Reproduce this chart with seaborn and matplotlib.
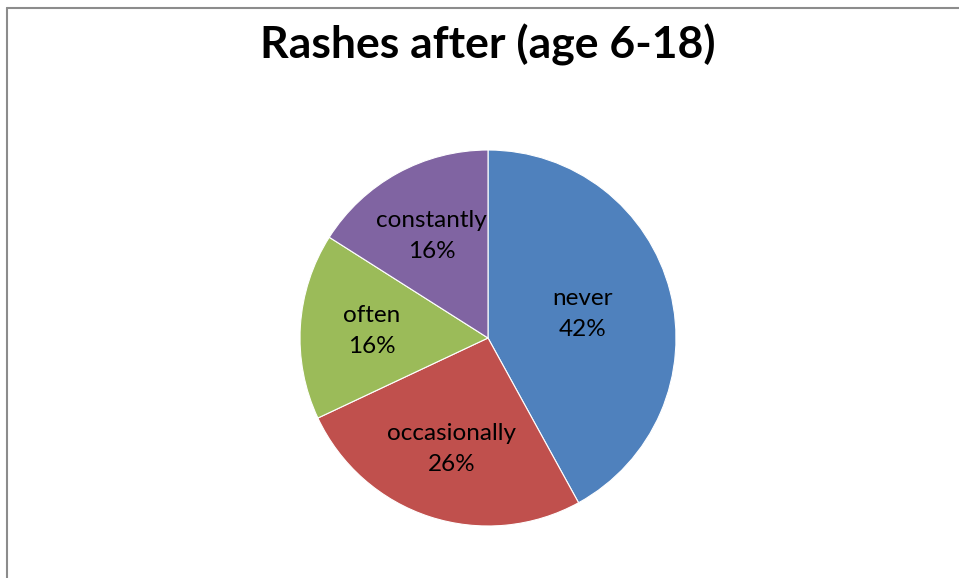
import matplotlib
matplotlib.use("Agg")
import matplotlib.pyplot as plt
import seaborn as sns
from matplotlib.lines import Line2D

categories = ["never", "occasionally", "often", "constantly"]
values = [42, 26, 16, 16]
colors = ["#4F81BD", "#C0504D", "#9BBB59", "#8064A2"]
title = "Rashes after (age 6-18)"

sns.set_theme(style="white")
plt.rcParams['font.family'] = ['Lato', 'DejaVu Sans']

fig = plt.figure(figsize=(9.59, 5.78), dpi=100)
W, H = 959, 578
cx, cy, r = 488, 338, 188
ax = fig.add_axes([(cx - r) / W, (H - cy - r) / H, 2 * r / W, 2 * r / H])

pal = sns.color_palette(colors)
labels_txt = [f"{c}\n{v}%" for c, v in zip(categories, values)]
wedges, texts = ax.pie(values, colors=pal, startangle=90, counterclock=False,
                       labels=labels_txt, labeldistance=0.62,
                       wedgeprops=dict(linewidth=0.8, edgecolor="white"),
                       textprops=dict(fontsize=17.5, ha="center", va="center",
                                      linespacing=1.6, color="black"))
for t in texts:
    t.set_ha("center")
    t.set_va("center")
# never label slightly closer to center
x, y = texts[0].get_position()
texts[0].set_position((x * 0.84, y * 0.84))
ax.set_aspect("equal")
ax.set_xlim(-1, 1)
ax.set_ylim(-1, 1)
ax.axis("off")

fig.text(488 / W, 1 - 45 / H, title, ha="center", va="center",
         fontsize=32, fontweight="bold", color="black")

# chart area border
bx, by = 7 / W, 1 - 8 / H
fig.add_artist(Line2D([bx, bx], [0, by], transform=fig.transFigure, color="#8c8c8c", lw=1.5))
fig.add_artist(Line2D([bx, 1], [by, by], transform=fig.transFigure, color="#8c8c8c", lw=1.5))

fig.savefig("out.png", dpi=100)
